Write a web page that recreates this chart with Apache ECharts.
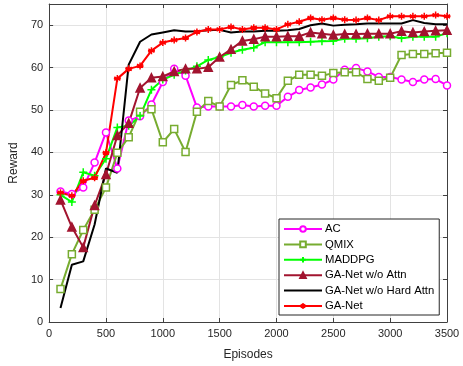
<!DOCTYPE html>
<html>
<head>
<meta charset="utf-8">
<script src="https://cdn.jsdelivr.net/npm/echarts@6/dist/echarts.min.js"></script>
<style>
  html, body { margin: 0; padding: 0; background: #fff; }
  #chart { width: 463px; height: 366px; }
</style>
</head>
<body>
<div id="chart"></div>
<script>
// episodes 100..3500
var episodes = [100,200,300,400,500,600,700,800,900,1000,1100,1200,1300,1400,1500,1600,1700,1800,
  1900,2000,2100,2200,2300,2400,2500,2600,2700,2800,2900,3000,3100,3200,3300,3400,3500];

var acData = [30.8,30.2,31.7,37.6,44.7,36.2,47.5,48.5,51.3,56.6,59.7,58.1,50.6,50.8,50.8,50.8,51.2,50.8,
  51.0,51.0,53.1,54.7,55.3,56.0,57.2,59.5,59.9,59.1,57.8,57.8,57.2,56.6,57.2,57.3,55.8];
var qmixData = [7.8,16.0,21.7,26.5,31.7,39.9,43.6,49.6,50.2,42.4,45.5,40.1,49.6,52.1,50.8,55.9,57.0,55.5,
  53.9,52.8,56.9,58.3,58.3,58.1,58.7,58.9,58.9,57.3,56.9,57.6,63.0,63.2,63.2,63.4,63.5];
var maddpgData = [30.0,28.3,35.3,34.5,38.5,45.9,46.3,48.6,54.8,57.2,58.3,59.3,60.3,61.8,62.5,63.5,64.2,64.7,
  66.0,66.0,66.0,66.0,66.1,66.2,66.3,66.8,66.8,66.9,67.3,67.4,66.9,67.3,67.3,67.3,68.1];
var noAttnData = [28.8,22.4,17.6,27.5,34.8,44.0,46.9,55.2,57.6,57.9,59.1,59.7,59.7,60.1,62.5,64.3,66.3,66.7,
  67.3,67.3,67.4,67.4,68.3,68.0,67.7,67.9,67.9,68.0,68.0,68.0,68.6,68.3,68.5,68.7,68.8];
var noHardAttnData = [3.3,13.5,14.3,23.0,36.2,35.2,60.7,66.1,67.8,68.3,68.8,68.5,68.6,68.8,68.9,68.3,68.5,68.5,
  68.7,68.7,68.8,69.1,70.0,70.4,69.9,70.1,70.2,70.4,70.4,70.4,70.4,71.2,70.5,70.2,70.2];
var gaNetData = [30.5,29.8,33.3,34.0,39.9,57.4,59.7,60.4,64.0,65.9,66.5,67.0,68.4,69.0,69.0,69.6,69.0,69.4,
  69.4,69.0,70.2,70.8,71.7,71.3,71.7,71.3,71.2,71.7,71.2,72.1,72.1,72.1,72.1,72.4,72.1];

var seriesNames = ['AC','QMIX','MADDPG','GA-Net w/o Attn','GA-Net w/o Hard Attn','GA-Net'];

function pairs(arr) {
  return arr.map(function (v, i) { return [episodes[i], v]; });
}

var axisColor = '#404040';
var font = 'Liberation Sans, Arial, sans-serif';
var plusPath = 'path://M0,-5L0,5M-5,0L5,0';
var starPath = 'path://M0,-5L0,5M-4.3,-2.5L4.3,2.5M-4.3,2.5L4.3,-2.5M-5,0L5,0';

function makeSeries(name, data, color, symbol, size, filled) {
  return {
    name: name,
    type: 'line',
    data: pairs(data),
    symbol: symbol,
    symbolSize: size,
    showSymbol: symbol !== 'none',
    lineStyle: { color: color, width: 2 },
    itemStyle: {
      color: filled ? color : '#ffffff',
      borderColor: color,
      borderWidth: 1.5
    },
    emphasis: { disabled: true },
    animation: false
  };
}

// black line has no marker, so hide its legend symbol
var legendData = seriesNames.map(function (n) {
  if (n === 'GA-Net w/o Hard Attn') {
    return { name: n, itemStyle: { opacity: 0 } };
  }
  return { name: n };
});

var chart = echarts.init(document.getElementById('chart'));
chart.setOption({
  backgroundColor: '#ffffff',
  animation: false,
  grid: { left: 40, right: 16, top: 4, bottom: 41 },
  legend: {
    orient: 'vertical',
    left: 279,
    top: 219,
    padding: [3, 5, 2, 4],
    itemGap: 1.4,
    itemWidth: 38,
    itemHeight: 7,
    backgroundColor: '#ffffff',
    borderColor: '#262626',
    borderWidth: 1,
    borderRadius: 0,
    textStyle: { fontFamily: font, fontSize: 11.3, lineHeight: 14, color: '#000', padding: [0, 0, 0, -2] },
    data: legendData
  },
  xAxis: [{
    type: 'value', min: 0, max: 3500, interval: 500,
    name: 'Episodes', nameLocation: 'middle', nameGap: 27,
    nameTextStyle: { fontFamily: font, fontSize: 12, color: '#262626' },
    axisLine: { show: true, lineStyle: { color: axisColor, width: 1 } },
    axisTick: { show: true, inside: true, length: 4, lineStyle: { color: axisColor } },
    axisLabel: {
      fontFamily: font, fontSize: 11, color: '#262626', margin: 6,
      formatter: function (v) { return String(v); }
    },
    splitLine: { show: true, lineStyle: { color: '#e3e3e3', width: 1 } }
  }, {
    type: 'value', min: 0, max: 3500, interval: 500, position: 'top',
    axisLine: { show: true, onZero: false, lineStyle: { color: axisColor, width: 1 } },
    axisTick: { show: true, inside: true, length: 4, lineStyle: { color: axisColor } },
    axisLabel: { show: false },
    splitLine: { show: false }
  }],
  yAxis: [{
    type: 'value', min: 0, max: 75, interval: 10,
    name: 'Reward', nameLocation: 'middle', nameGap: 25,
    nameTextStyle: { fontFamily: font, fontSize: 12, color: '#262626' },
    axisLine: { show: true, lineStyle: { color: axisColor, width: 1 } },
    axisTick: { show: true, inside: true, length: 4, lineStyle: { color: axisColor } },
    axisLabel: {
      fontFamily: font, fontSize: 11, color: '#262626', margin: 6,
      showMaxLabel: false,
      formatter: function (v) { return v % 10 === 0 ? String(v) : ''; }
    },
    splitLine: { show: true, lineStyle: { color: '#e3e3e3', width: 1 } }
  }, {
    type: 'value', min: 0, max: 75, interval: 10, position: 'right',
    axisLine: { show: true, onZero: false, lineStyle: { color: axisColor, width: 1 } },
    axisTick: { show: true, inside: true, length: 4, lineStyle: { color: axisColor } },
    axisLabel: { show: false },
    splitLine: { show: false }
  }],
  series: [
    makeSeries('AC', acData, '#ff00ff', 'circle', 7, false),
    makeSeries('QMIX', qmixData, '#77ac30', 'rect', 7, false),
    makeSeries('MADDPG', maddpgData, '#00ff00', plusPath, 8, true),
    makeSeries('GA-Net w/o Attn', noAttnData, '#a2142f', 'triangle', 8, true),
    makeSeries('GA-Net w/o Hard Attn', noHardAttnData, '#000000', 'none', 0, true),
    makeSeries('GA-Net', gaNetData, '#ff0000', starPath, 7, true)
  ]
});
</script>
</body>
</html>
